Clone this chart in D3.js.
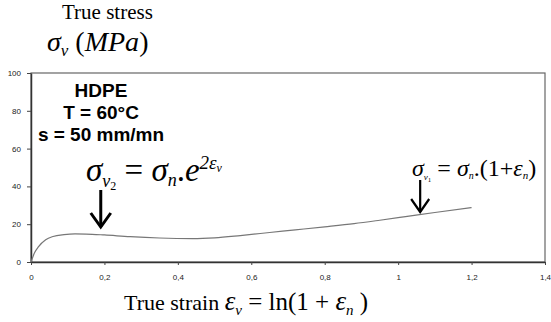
<!DOCTYPE html>
<html>
<head>
<meta charset="utf-8">
<script src="https://cdn.jsdelivr.net/npm/d3@7"></script>
<style>
  body { margin: 0; background: #fff; }
  svg { display: block; }
  .tick text { font-family: "Liberation Sans", Arial, sans-serif; font-size: 8px; fill: #222; }
  .serif { font-family: "Liberation Serif", "Times New Roman", serif; }
  .sans { font-family: "Liberation Sans", Arial, sans-serif; }
</style>
</head>
<body>
<svg id="chart" width="551" height="322"></svg>
<script>
// true strain (x) and true stress in MPa (y)
var strain = [0, 0.01, 0.02, 0.04, 0.06, 0.09, 0.12, 0.15, 0.2, 0.27, 0.35, 0.44, 0.5, 0.57, 0.65, 0.72, 0.8, 0.88, 0.95, 1.02, 1.1, 1.2];
var stress = [0, 5, 8, 11.8, 13.5, 14.5, 14.9, 14.8, 14.3, 13.4, 12.7, 12.4, 12.8, 14, 15.6, 17, 18.6, 20.3, 22.1, 24, 26.2, 28.8];
var xTicks = [0, 0.2, 0.4, 0.6, 0.8, 1, 1.2, 1.4];
var yTicks = [0, 20, 40, 60, 80, 100];
var infoLines = ["HDPE", "T = 60°C", "s = 50 mm/mn"];
var arrowAt = [0.19, 1.06]; // strain where the two arrows point

var svg = d3.select("#chart");
var plotLeft = 31, plotRight = 545, plotTop = 73, plotBottom = 262;

var x = d3.scaleLinear().domain([0, 1.4]).range([plotLeft, plotRight]);
var y = d3.scaleLinear().domain([0, 100]).range([plotBottom, plotTop]);
var fmt = function(d) { return String(d).replace(".", ","); };

// frame
svg.append("rect")
  .attr("x", plotLeft).attr("y", plotTop)
  .attr("width", plotRight - plotLeft).attr("height", plotBottom - plotTop)
  .attr("fill", "none").attr("stroke", "#666").attr("stroke-width", 1.2);

var xAxis = d3.axisBottom(x).tickValues(xTicks).tickFormat(fmt).tickSize(3).tickSizeOuter(0);
var yAxis = d3.axisLeft(y).tickValues(yTicks).tickSize(4).tickSizeOuter(0);

var gx = svg.append("g").attr("transform", "translate(0," + plotBottom + ")").call(xAxis);
gx.selectAll("text").attr("dy", "1.5em");
var gy = svg.append("g").attr("transform", "translate(" + plotLeft + ",0)").call(yAxis);
gy.selectAll("text").attr("x", -10);
svg.selectAll(".domain").attr("stroke", "#333").attr("stroke-width", 1.5);
svg.selectAll(".tick line").attr("stroke", "#444");

// curve
var pts = strain.map(function(d, i) { return [d, stress[i]]; });
var line = d3.line()
  .x(function(d) { return x(d[0]); })
  .y(function(d) { return y(d[1]); })
  .curve(d3.curveMonotoneX);
svg.append("path").datum(pts)
  .attr("d", line)
  .attr("fill", "none").attr("stroke", "#777").attr("stroke-width", 1.2);

// info block
svg.append("g").selectAll("text").data(infoLines).enter()
  .append("text")
  .attr("class", "sans")
  .attr("x", 101)
  .attr("y", function(d, i) { return 97 + i * 22; })
  .attr("text-anchor", "middle")
  .attr("font-size", 19)
  .attr("font-weight", "bold")
  .text(function(d) { return d; });

// axis titles
svg.append("text").attr("class", "serif")
  .attr("x", 62).attr("y", 19).attr("font-size", 21)
  .text("True stress");

var t = svg.append("text").attr("class", "serif").attr("x", 47).attr("y", 51).attr("font-size", 28);
t.append("tspan").attr("font-style", "italic").text("σ");
t.append("tspan").attr("font-style", "italic").attr("font-size", 17).attr("dy", 5).text("v");
t.append("tspan").attr("dy", -5).text(" (");
t.append("tspan").attr("font-style", "italic").text("MPa");
t.append("tspan").text(")");

var xt = svg.append("text").attr("class", "serif").attr("x", 124).attr("y", 310).attr("font-size", 22);
xt.append("tspan").text("True strain ");
xt.append("tspan").attr("font-style", "italic").attr("font-size", 27).text("ε");
xt.append("tspan").attr("font-style", "italic").attr("font-size", 15).attr("dy", 5).text("v");
xt.append("tspan").attr("dy", -5).attr("font-size", 25).text(" = ln(1 + ");
xt.append("tspan").attr("font-style", "italic").attr("font-size", 27).text("ε");
xt.append("tspan").attr("font-style", "italic").attr("font-size", 15).attr("dy", 5).text("n");
xt.append("tspan").attr("dy", -5).attr("font-size", 25).text(" )");

// formula 1
var f1 = svg.append("text").attr("class", "serif").attr("x", 86).attr("y", 181).attr("font-size", 33);
f1.append("tspan").attr("font-style", "italic").text("σ");
f1.append("tspan").attr("font-style", "italic").attr("font-size", 18).attr("dy", 6).text("v");
f1.append("tspan").attr("font-size", 12).attr("dy", 3).text("2");
f1.append("tspan").attr("dy", -9).text(" = ");
f1.append("tspan").attr("font-style", "italic").text("σ");
f1.append("tspan").attr("font-style", "italic").attr("font-size", 18).attr("dy", 5).text("n");
f1.append("tspan").attr("dy", -5).text(".");
f1.append("tspan").attr("font-style", "italic").text("e");
f1.append("tspan").attr("font-size", 19).attr("font-style", "italic").attr("dy", -12).text("2ε");
f1.append("tspan").attr("font-size", 12).attr("font-style", "italic").attr("dy", 3).text("v");

// formula 2
var f2 = svg.append("text").attr("class", "serif").attr("x", 412).attr("y", 176).attr("font-size", 24);
f2.append("tspan").attr("font-style", "italic").text("σ");
f2.append("tspan").attr("font-style", "italic").attr("font-size", 9).attr("dy", 4).text("v");
f2.append("tspan").attr("font-size", 7).attr("dy", 2).text("1");
f2.append("tspan").attr("dy", -6).text(" = ");
f2.append("tspan").attr("font-style", "italic").text("σ");
f2.append("tspan").attr("font-style", "italic").attr("font-size", 10).attr("dy", 3).text("n");
f2.append("tspan").attr("dy", -3).text(".(1+");
f2.append("tspan").attr("font-style", "italic").text("ε");
f2.append("tspan").attr("font-style", "italic").attr("font-size", 11).attr("dy", 3).text("n");
f2.append("tspan").attr("dy", -3).text(")");

// arrows
var arrows = [
  { at: arrowAt[0], y0: 190, y1: 227, w: 10, h: 14, sw: 3 },
  { at: arrowAt[1], y0: 180, y1: 212, w: 9, h: 13, sw: 2.2 }
];
arrows.forEach(function(a) {
  var ax = x(a.at);
  svg.append("line")
    .attr("x1", ax).attr("x2", ax).attr("y1", a.y0).attr("y2", a.y1)
    .attr("stroke", "#000").attr("stroke-width", a.sw);
  svg.append("path")
    .attr("d", "M" + (ax - a.w) + "," + (a.y1 - a.h) + "L" + ax + "," + a.y1 + "L" + (ax + a.w) + "," + (a.y1 - a.h))
    .attr("fill", "none").attr("stroke", "#000").attr("stroke-width", a.sw);
});
</script>
</body>
</html>
